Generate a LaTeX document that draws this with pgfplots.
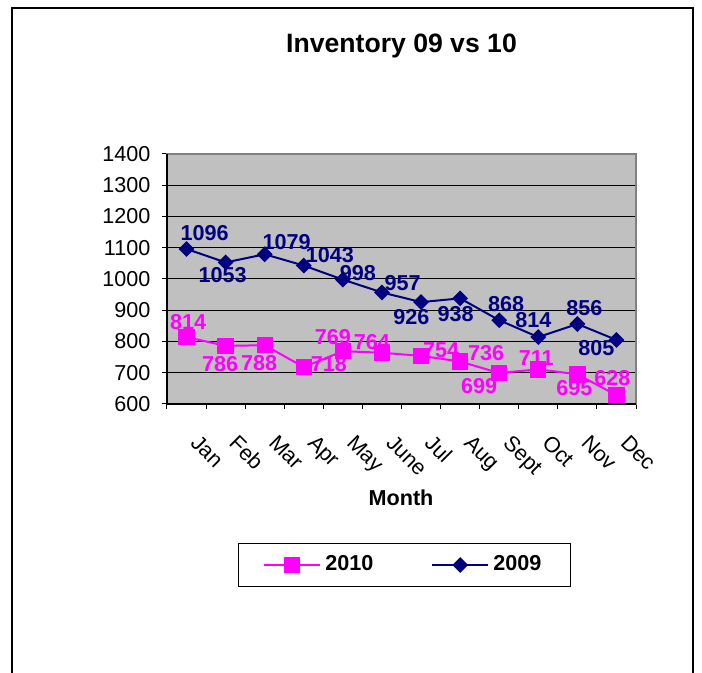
\documentclass[border=0pt]{standalone}
\usepackage{fontspec}
\setmainfont{Liberation Sans}
\usepackage{pgfplots}
\usepackage{pgfplotstable}
\pgfplotsset{compat=1.18}
\definecolor{pinkc}{RGB}{255,0,255}
\definecolor{navyc}{RGB}{0,0,128}
\definecolor{plotbg}{RGB}{192,192,192}
\definecolor{bordergray}{RGB}{128,128,128}

\pgfplotstableread{
x y dx dy
1 1096 9 8
2 1053 -1.5 -6.3
3 1079 11 6
4 1043 13 5.3
5 998 7.5 3.3
6 957 10.3 4.7
7 926 -4.8 -7.5
8 938 -2.3 -7.8
9 868 3.5 8
10 814 -2.5 8.5
11 856 3.5 8
12 805 -10 -4
}\datanine

\pgfplotstableread{
x y dx dy
1 814 0.8 7.5
2 786 -2.8 -9
3 788 -2.8 -8.7
4 718 12.5 1.5
5 769 -5 7
6 764 -5 5.5
7 754 10 3
8 736 13 4
9 699 -10 -6.5
10 711 -1 5.5
11 695 -1.5 -7
12 628 -2 8.5
}\dataten

\begin{document}
\fontsize{10.8}{13}\selectfont
\begin{tikzpicture}
\useasboundingbox (0,0) rectangle (351pt,336.5pt);
\draw[line width=1pt,black] (6pt,0pt) -- (6pt,332.5pt) -- (346.5pt,332.5pt) -- (346.5pt,0pt);
\begin{axis}[
  at={(83.5pt,134.5pt)}, anchor=south west,
  scale only axis, width=234.5pt, height=125pt,
  xmin=0.5, xmax=12.5, ymin=600, ymax=1400,
  clip=false,
  axis background/.style={fill=plotbg},
  axis line style={draw=bordergray, line width=0.8pt},
  xtick={0.5,1.5,...,12.5},
  xticklabels={Jan,Feb,Mar,Apr,May,June,Jul,Aug,Sept,Oct,Nov,Dec},
  x tick label as interval,
  ytick={600,700,...,1400},
  tick align=outside,
  tick pos=left,
  major tick length=2.5pt,
  tick style={black, line width=0.5pt},
  ymajorgrids,
  grid style={black, line width=0.5pt},
  /pgf/number format/assume math mode=true,
  /pgf/number format/1000 sep={},
  xticklabel style={xshift=6.8pt, yshift=-7pt, rotate=-45, anchor=north west, font=\fontsize{10.8}{13}\selectfont},
  yticklabel style={font=\fontsize{10.8}{13}\selectfont, xshift=-2pt},
  title={\fontsize{13.3}{16}\selectfont\bfseries Inventory 09 vs 10},
  title style={at={(0.5,1.384)}, anchor=center},
  xlabel={\bfseries Month},
  xlabel style={at={(axis description cs:0.499,-0.376)}, anchor=center},
  legend columns=2,
  legend cell align=left,
  legend style={at={(0.506,-0.644)}, anchor=center, draw=black, line width=0.5pt,
    font=\fontsize{10.8}{13}\selectfont\bfseries,
    inner xsep=12.5pt, inner ysep=4pt,
    /tikz/every even column/.append style={column sep=27pt}},
  legend image code/.code={\draw[mark repeat=2,mark phase=2,#1] plot coordinates {(0pt,0pt) (14pt,0pt) (28pt,0pt)};},
  nodes near coords,
  visualization depends on={\thisrow{dx} \as \dx},
  visualization depends on={\thisrow{dy} \as \dy},
  nodes near coords style={anchor=center, xshift=\dx pt, yshift=\dy pt, font=\fontsize{10.8}{13}\selectfont\bfseries},
]
\draw[black, line width=0.8pt] (rel axis cs:0,1) -- (rel axis cs:0,0) -- (rel axis cs:1,0);
\addplot[pinkc, line width=1pt, mark=square*, mark size=3.6pt, mark options={fill=pinkc, draw=pinkc, solid}, every node near coord/.append style={text=pinkc}] table[x=x,y=y] {\dataten};
\addlegendentry{2010}
\addplot[navyc, line width=1pt, mark=square*, mark size=2.3pt, mark options={fill=navyc, draw=navyc, rotate=45, solid}, every node near coord/.append style={text=navyc}] table[x=x,y=y] {\datanine};
\addlegendentry{2009}
\end{axis}
\end{tikzpicture}
\end{document}
